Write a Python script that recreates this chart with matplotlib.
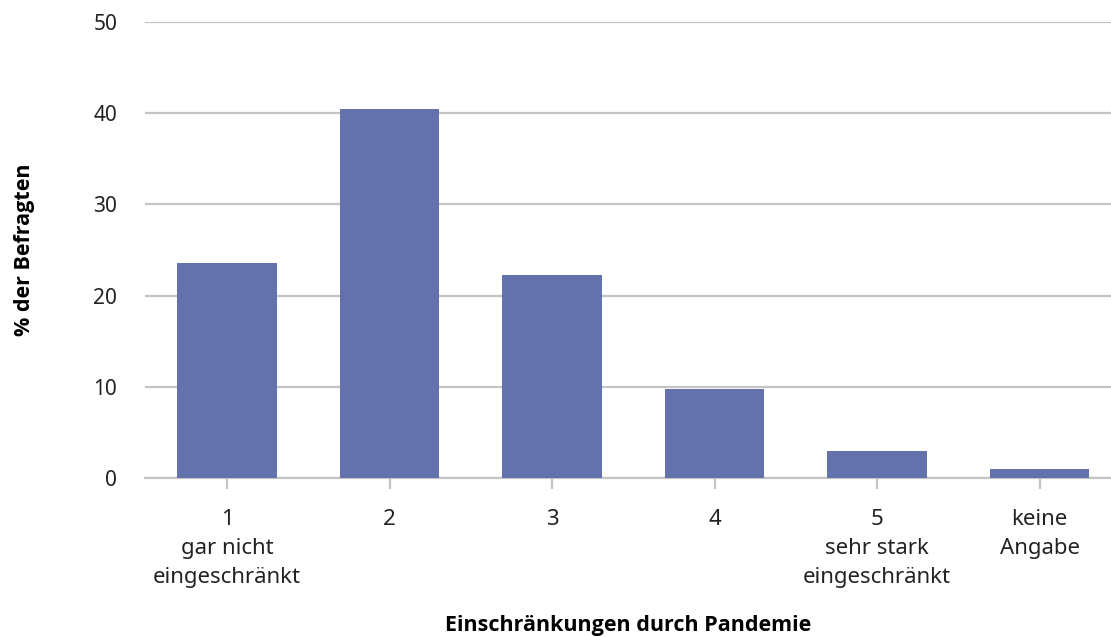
import numpy as np
import matplotlib
matplotlib.use('Agg')
import matplotlib.pyplot as plt

plt.rcParams['font.family'] = ['Noto Sans', 'DejaVu Sans']

kategorien = ['1\ngar nicht\neingeschränkt', '2', '3', '4',
              '5\nsehr stark\neingeschränkt', 'keine\nAngabe']
prozent = [23.6, 40.5, 22.3, 9.8, 3.0, 1.0]
y_ticks = [0, 10, 20, 30, 40, 50]

grau = '#c4c4c4'
fett = ['Open Sans', 'DejaVu Sans']

fig = plt.figure(figsize=(11.11, 6.37), dpi=100)
ax = fig.add_axes([0.1305, 0.2496, 0.8695, 0.7159])

x = np.arange(len(prozent))
ax.bar(x, prozent, width=0.61, color='#6472ab', zorder=3)

ax.set_xlim(-0.505, 5.44)
ax.set_ylim(0, 50)
ax.set_yticks(y_ticks)
ax.yaxis.grid(True, color=grau, linewidth=1.6, zorder=0)
ax.set_axisbelow(True)

for s in ['top', 'right', 'left']:
    ax.spines[s].set_visible(False)
ax.spines['bottom'].set_color(grau)
ax.spines['bottom'].set_linewidth(1.6)

ax.set_xticks(x)
ax.set_xticklabels(kategorien, fontsize=16, linespacing=1.5, color='#222222')
ax.tick_params(axis='x', length=8, width=1.6, color=grau, pad=14)
ax.tick_params(axis='y', length=0, pad=20, labelsize=15, labelcolor='#222222')

ax.set_ylabel('% der Befragten', fontsize=15.5, fontweight='bold',
              family=fett, labelpad=42)
ax.set_xlabel('Einschränkungen durch Pandemie', fontsize=15.5,
              fontweight='bold', family=fett, labelpad=20)

fig.savefig('out.png', dpi=100)
